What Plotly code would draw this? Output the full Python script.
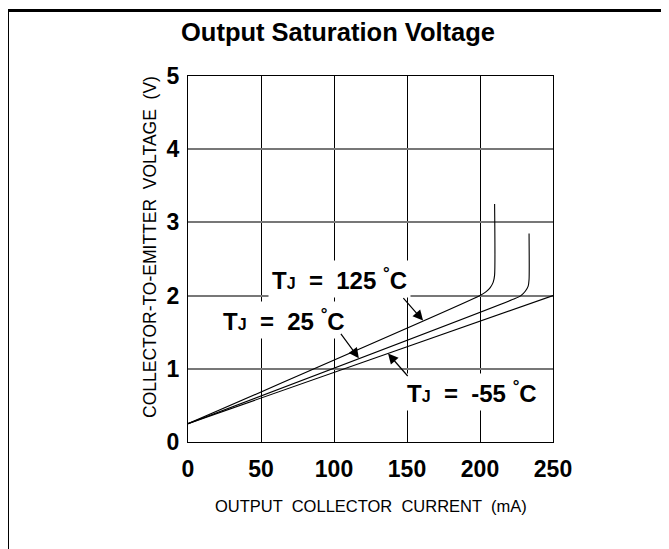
import numpy as np
import plotly.graph_objects as go

# ---- data ----
current_125 = [0, 200, 204, 207, 209, 210, 210]
voltage_125 = [0.25, 2.0, 2.05, 2.11, 2.18, 2.28, 3.25]

current_25 = [0, 224, 228, 231, 233, 233.6, 233.6]
voltage_25 = [0.25, 1.96, 2.0, 2.06, 2.13, 2.22, 2.85]

current_m55 = [0, 250]
voltage_m55 = [0.25, 2.0]

x_ticks = [0, 50, 100, 150, 200, 250]
y_ticks = [0, 1, 2, 3, 4, 5]

labels = ["<b>T<span style='font-size:16px'>J</span>  =  125 <sup>°</sup>C</b>",
          "<b>T<span style='font-size:16px'>J</span>  =  25 <sup>°</sup>C</b>",
          "<b>T<span style='font-size:16px'>J</span>  =  -55 <sup>°</sup>C</b>"]

FONT = "Liberation Sans, Arial, Helvetica, sans-serif"

# plot area in figure pixels
L, R, T, B = 180, 545, 68, 434
W, H = 669, 549


def px(fx):
    return (fx - L) / (R - L)


def py(fy):
    return (B - fy) / (B - T)


fig = go.Figure()
for cx, vy in [(current_125, voltage_125), (current_25, voltage_25), (current_m55, voltage_m55)]:
    fig.add_trace(go.Scatter(x=cx, y=vy, mode="lines",
                             line=dict(color="black", width=1.1, shape="spline", smoothing=0.6),
                             showlegend=False, hoverinfo="skip"))

# text labels
text_pos = [(104, 2.23), (66, 1.67), (194.5, 0.68)]
for t, (x, y) in zip(labels, text_pos):
    fig.add_annotation(x=x, y=y, xref="x", yref="y", text=t, showarrow=False,
                       font=dict(family=FONT, size=24, color="black"), bgcolor="white", borderpad=3)

# arrows pointing at curves (head on curve, computed from the series)
arrow_specs = [(current_125, voltage_125, 161, -21, 24),
               (current_25, voltage_25, 117, -19, 26),
               (current_m55, voltage_m55, 137, 21, -24)]
for cx, vy, hx, dx, dy in arrow_specs:
    hy = float(np.interp(hx, cx, vy))
    fig.add_annotation(x=hx, y=hy, xref="x", yref="y", ax=dx, ay=-dy, text="",
                       showarrow=True, arrowhead=2, arrowsize=1.7, arrowwidth=1.2, arrowcolor="black")

# axis titles
fig.add_annotation(x=0.5, y=py(509), xref="paper", yref="paper", showarrow=False,
                   text="OUTPUT  COLLECTOR  CURRENT  (mA)", font=dict(family=FONT, size=16.5, color="black"))
fig.add_annotation(x=px(130), y=py(239), xref="paper", yref="paper", showarrow=False, textangle=-90,
                   text="COLLECTOR-TO-EMITTER  VOLTAGE  (V)", font=dict(family=FONT, size=17.5, color="black"))

# outer border
fig.add_shape(type="rect", xref="paper", yref="paper",
              x0=px(-0.5), x1=px(W + 20), y0=py(H + 20), y1=py(2.5),
              line=dict(color="black", width=3), fillcolor="rgba(0,0,0,0)", layer="below")

fig.update_layout(
    width=W, height=H,
    margin=dict(l=L, r=W - R, t=T, b=H - B, autoexpand=False),
    paper_bgcolor="white", plot_bgcolor="white",
    title=dict(text="<b>Output Saturation Voltage</b>", x=330 / W, xanchor="center",
               y=1 - 24 / H, yanchor="middle", font=dict(family=FONT, size=25.5, color="black")),
    xaxis=dict(range=[0, 250], tickvals=x_ticks, ticktext=[f"<b>{v}</b>" for v in x_ticks],
               showgrid=True, gridcolor="black", gridwidth=1, zeroline=False,
               showline=True, linecolor="black", linewidth=1, mirror=True,
               ticks="", ticklabelstandoff=6, tickfont=dict(family=FONT, size=23, color="black")),
    yaxis=dict(range=[0, 5], tickvals=y_ticks, ticktext=[f"<b>{v}</b>" for v in y_ticks],
               showgrid=True, gridcolor="#777777", gridwidth=1.6, zeroline=False,
               showline=True, linecolor="black", linewidth=1, mirror=True,
               ticks="", ticklabelstandoff=3, tickfont=dict(family=FONT, size=23, color="black")),
)

fig.write_html("out.html")
